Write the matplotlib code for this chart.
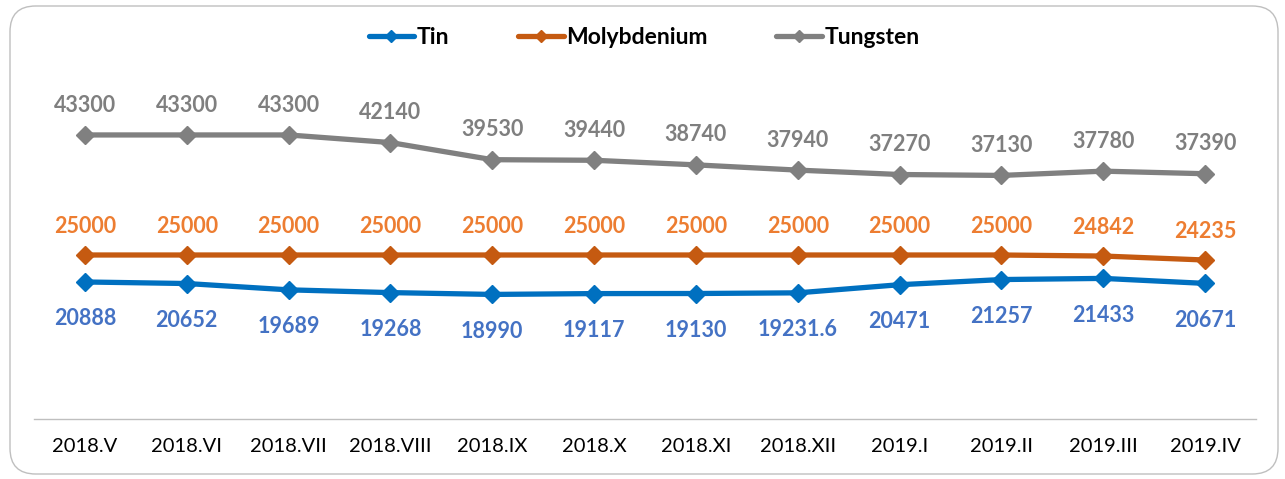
import matplotlib
matplotlib.use("Agg")
import matplotlib.pyplot as plt
from matplotlib.patches import FancyBboxPatch

categories = ["2018.V", "2018.VI", "2018.VII", "2018.VIII", "2018.IX", "2018.X",
              "2018.XI", "2018.XII", "2019.I", "2019.II", "2019.III", "2019.IV"]
tin = [20888, 20652, 19689, 19268, 18990, 19117, 19130, 19231.6, 20471, 21257, 21433, 20671]
molybdenium = [25000, 25000, 25000, 25000, 25000, 25000, 25000, 25000, 25000, 25000, 24842, 24235]
tungsten = [43300, 43300, 43300, 42140, 39530, 39440, 38740, 37940, 37270, 37130, 37780, 37390]

tin_labels = ["20888", "20652", "19689", "19268", "18990", "19117", "19130", "19231.6",
              "20471", "21257", "21433", "20671"]

plt.rcParams['font.family'] = ['Lato', 'DejaVu Sans']

fig = plt.figure(figsize=(12.85, 4.79), dpi=100)
fig.patches.append(FancyBboxPatch((10/1285, 5/479), 1268/1285, 468/479,
                                  boxstyle="round,pad=0,rounding_size=0.02",
                                  transform=fig.transFigure, facecolor='white',
                                  edgecolor='#BFBFBF', linewidth=1.0, zorder=-1,
                                  mutation_aspect=1285/479))
ax = fig.add_axes([34/1285, 1 - 419/479, (1256 - 34)/1285, (419 - 91)/479])
ax.set_facecolor('none')
x = list(range(len(categories)))

series = [("Tin", tin, '#0070C0', '#4472C4'),
          ("Molybdenium", molybdenium, '#C55A11', '#ED7D31'),
          ("Tungsten", tungsten, '#808080', '#7F7F7F')]
for name, vals, c, lc in series:
    ax.plot(x, vals, color=c, lw=3.8, marker='D', ms=9, label=name,
            solid_capstyle='round', solid_joinstyle='round')

fs = 15.5
for i, v in enumerate(tungsten):
    ax.annotate(str(v), (i, v), xytext=(0, 14), textcoords='offset points',
                ha='center', va='bottom', fontsize=fs, fontweight='bold', color='#7F7F7F')
for i, v in enumerate(molybdenium):
    ax.annotate(str(v), (i, v), xytext=(0, 13), textcoords='offset points',
                ha='center', va='bottom', fontsize=fs, fontweight='bold', color='#ED7D31')
for i, v in enumerate(tin):
    ax.annotate(tin_labels[i], (i, v), xytext=(0, -19), textcoords='offset points',
                ha='center', va='top', fontsize=fs, fontweight='bold', color='#4472C4')

ax.set_xlim(-0.5, len(categories) - 0.5)
ax.set_ylim(0, 50000)
ax.set_xticks(x)
ax.set_xticklabels(categories, fontsize=14.5)
ax.tick_params(axis='x', length=0, pad=14)
ax.set_yticks([])
for s in ['left', 'right', 'top']:
    ax.spines[s].set_visible(False)
ax.spines['bottom'].set_color('#BFBFBF')
ax.spines['bottom'].set_linewidth(1.0)

leg = fig.legend(loc='center', bbox_to_anchor=(644/1285, 1 - 38/479), ncol=3,
                 frameon=False, prop={'weight': 'bold', 'size': 16.5},
                 handlelength=2.0, handletextpad=0.1, columnspacing=3.0,
                 markerscale=0.7)

fig.savefig("out.png", dpi=100)
